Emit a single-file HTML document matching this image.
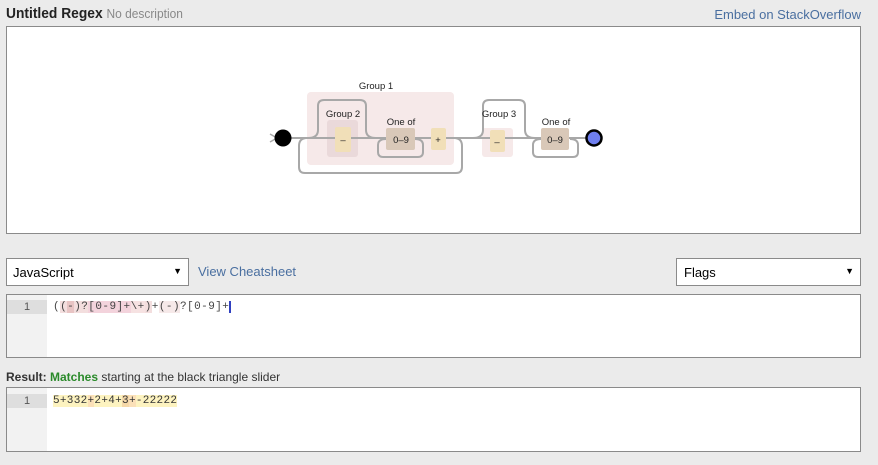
<!DOCTYPE html>
<html><head><style>
body{margin:0;width:878px;height:465px;background:#ebebeb;font-family:"Liberation Sans",sans-serif;position:relative;overflow:hidden}
.a{position:absolute}
.box{position:absolute;background:#fff;border:1px solid #8a8a8a;box-sizing:border-box}
.mono{font-family:"Liberation Mono",monospace;font-size:11px}
</style></head><body>
<div class="a" style="left:6px;top:5px;font-size:15px;font-weight:bold;color:#222;transform:scaleX(0.92);transform-origin:left">Untitled Regex <span style="font-weight:normal;font-size:13px;color:#888">No description</span></div>
<div class="a" style="right:17px;top:7px;font-size:13px;color:#4a6fa0">Embed on StackOverflow</div>
<div class="box" style="left:6px;top:26px;width:855px;height:208px"></div>
<svg class="a" style="left:0;top:0" width="878" height="240">
<g font-family="Liberation Sans" font-size="9.5" fill="#222" text-anchor="middle">
<rect x="307" y="92" width="147" height="73" rx="4" fill="#f6e9e9"/>
<text x="376" y="89">Group 1</text>
<rect x="327" y="120" width="31" height="37" rx="3" fill="#ead9da"/>
<rect x="482" y="128" width="31" height="29" rx="3" fill="#f6e9e9"/>
<g fill="none" stroke="#a8a8a8" stroke-width="2">
<path d="M275 138 H594"/>
<path d="M308 138 q10 0 10-8 V106 q0-6 6-6 h36 q6 0 6 6 v24 q0 8 10 8"/>
<path d="M473 138 q10 0 10-8 V106 q0-6 6-6 h30 q6 0 6 6 v24 q0 8 10 8"/>
<path d="M386 139 q-8 0-8 6 v7 q0 5 5 5 h35 q5 0 5-5 v-7 q0-6-8-6"/>
<path d="M541 139 q-8 0-8 6 v7 q0 5 5 5 h35 q5 0 5-5 v-7 q0-6-8-6"/>
<path d="M307 138 q-8 0-8 8 v21 q0 6 6 6 h151 q6 0 6-6 v-21 q0-8-8-8"/>
</g>
<text x="343" y="117">Group 2</text>
<text x="401" y="125">One of</text>
<text x="499" y="117">Group 3</text>
<text x="556" y="125">One of</text>
<rect x="335" y="127" width="16" height="25" rx="2" fill="#f1dfb8"/>
<text x="343" y="143">–</text>
<rect x="386" y="128" width="29" height="22" rx="2" fill="#d9c8b8"/>
<text x="401" y="143">0–9</text>
<rect x="431" y="128" width="15" height="22" rx="2" fill="#f1dfb8"/>
<text x="438" y="143">+</text>
<rect x="490" y="130" width="15" height="22" rx="2" fill="#f1dfb8"/>
<text x="497" y="145">–</text>
<rect x="541" y="128" width="28" height="22" rx="2" fill="#d9c8b8"/>
<text x="555" y="143">0–9</text>
</g>
<path d="M270 134 l7 4 -7 4" fill="none" stroke="#a8a8a8" stroke-width="1.5"/>
<circle cx="283" cy="138" r="8.5" fill="#000"/>
<circle cx="594" cy="138" r="7.5" fill="#6f7ff0" stroke="#000" stroke-width="2.5"/>
</svg>
<div class="box" style="left:6px;top:258px;width:183px;height:28px;font-size:13px;padding:6px 0 0 6px">JavaScript<span class="a" style="right:6px;top:7px;font-size:9px">▼</span></div>
<div class="a" style="left:198px;top:264px;font-size:13px;color:#4a6fa0">View Cheatsheet</div>
<div class="box" style="left:676px;top:258px;width:185px;height:28px;font-size:13px;padding:6px 0 0 7px">Flags<span class="a" style="right:6px;top:7px;font-size:9px">▼</span></div>
<div class="box" style="left:6px;top:294px;width:855px;height:64px">
<div class="a" style="left:0;top:0;width:40px;height:62px;background:#f2f2f2"></div>
<div class="a" style="left:0;top:5px;width:40px;height:14px;background:#dedede;font-size:11px;color:#555;text-align:center;line-height:14px">1</div>
<div class="a mono" style="left:46px;top:5px;line-height:14px;color:#444;letter-spacing:0.45px">(<span style="background:#f3dede">(<span style="background:#e8c4c4">-</span>)?<span style="background:#f3d3dc">[0-9]+</span><span style="background:#f6e2e2">\+</span>)</span>+<span style="background:#f6e9e9">(-)</span>?[0-9]+<span style="border-left:2px solid #3040c0"></span></div>
</div>
<div class="a" style="left:6px;top:370px;font-size:12px;color:#333"><b>Result:</b> <b style="color:#2a8a2a">Matches</b> starting at the black triangle slider</div>
<div class="box" style="left:6px;top:387px;width:855px;height:65px">
<div class="a" style="left:0;top:0;width:40px;height:63px;background:#f2f2f2"></div>
<div class="a" style="left:0;top:6px;width:40px;height:14px;background:#dedede;font-size:11px;color:#555;text-align:center;line-height:14px">1</div>
<div class="a mono" style="left:46px;top:6px;line-height:14px;color:#333;letter-spacing:0.3px"><span style="background:#fdf3c0">5+332</span><span style="background:#fbe0b8">+</span><span style="background:#fdf3c0">2+4+</span><span style="background:#f5d8a8">3</span><span style="background:#fbe0b8">+</span><span style="background:#fdf3c0">-22222</span></div>
</div>
</body></html>
